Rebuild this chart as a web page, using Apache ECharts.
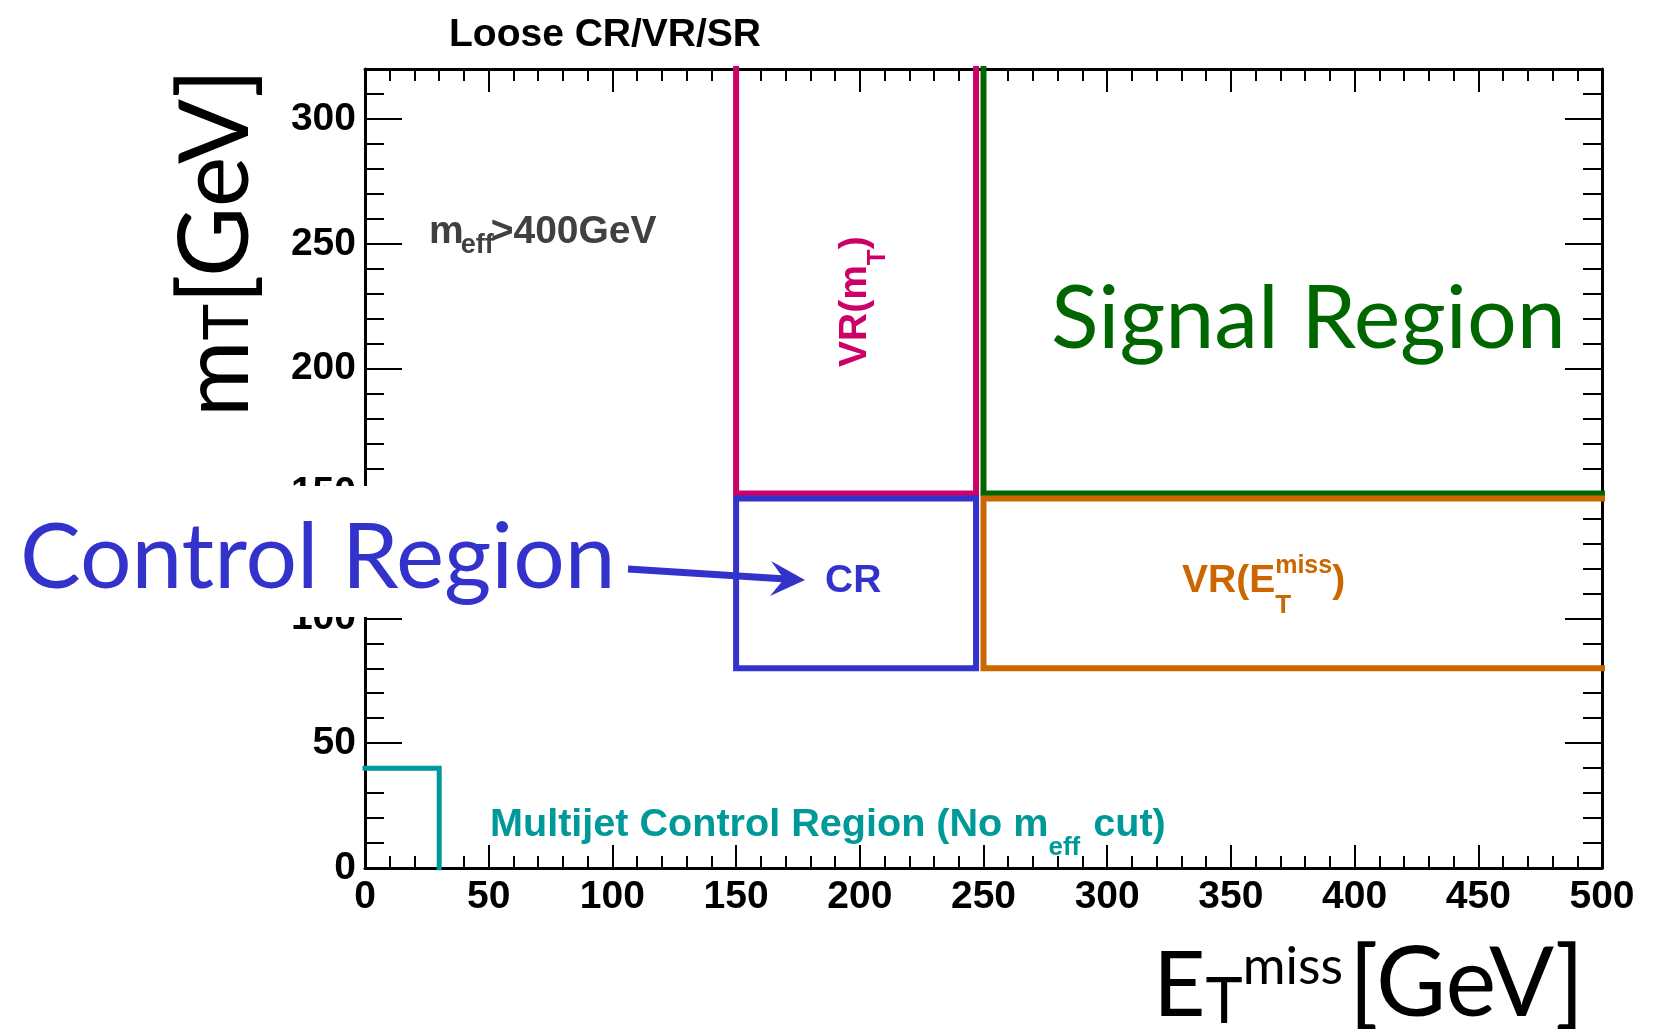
<!DOCTYPE html>
<html>
<head>
<meta charset="utf-8">
<script src="https://cdn.jsdelivr.net/npm/echarts@6/dist/echarts.min.js"></script>
<style>
  html, body { margin: 0; padding: 0; background: #fff; }
  #chart { width: 1656px; height: 1029px; }
</style>
</head>
<body>
<div id="chart"></div>
<script>
// Axis ranges (GeV)
const metRange = [0, 500];
const mtRange = [0, 320];
const majorStep = 50;
const minorStep = 10;

// Region boundaries: [low, high] in E_T^miss and in m_T (GeV)
const crMet = [150, 247];
const crMt = [80, 148];
const vrMtMet = [150, 247];
const vrMtMt = [150, 320];
const srMet = [250, 500];
const srMt = [150, 320];
const vrMetMet = [250, 500];
const vrMetMt = [80, 148];
const multijetMet = [0, 30];
const multijetMt = [0, 40];

// Colours
const BLUE = '#3333CC', MAGENTA = '#CC0066', GREEN = '#006600', ORANGE = '#CC6600', TEAL = '#009999';

// Corner walk: a=(lo,lo) b=(hi,lo) c=(hi,hi) d=(lo,hi)
function outline(met, mt, walk) {
  const pts = { a: [met[0], mt[0]], b: [met[1], mt[0]], c: [met[1], mt[1]], d: [met[0], mt[1]] };
  return walk.split('').map(k => pts[k]);
}
function regionSeries(name, met, mt, walk, color, width) {
  return {
    name, type: 'line', xAxisIndex: 0, yAxisIndex: 0, clip: true, silent: true,
    symbol: 'none', z: 3,
    lineStyle: { color, width, cap: 'square', join: 'miter' },
    data: outline(met, mt, walk)
  };
}

// Text helpers: pieces laid along a baseline, measured with canvas
const BOLD = '"Liberation Sans", Arial, Helvetica, sans-serif';
const HUMAN = 'Lato, "Open Sans", sans-serif';
const K = { bold: 0.27, human: 0.31 };
const mctx = document.createElement('canvas').getContext('2d');
function measure(t, size, fam, weight) {
  mctx.font = weight + ' ' + size + 'px ' + fam;
  return mctx.measureText(t).width;
}
function textRun(x, y, rotation, parts, fam, weight, color, k) {
  let cx = 0, pending = 0;
  const kids = [];
  parts.forEach(p => {
    cx += (p.dx || 0);
    kids.push({
      type: 'text', x: cx, y: (p.dy || 0) - k * p.s, z: 100,
      style: { text: p.t, fontSize: p.s, fontFamily: fam, fontWeight: weight, fill: color,
               align: 'left', verticalAlign: 'middle' }
    });
    const w = measure(p.t, p.s, fam, weight);
    if (p.stack) { pending = Math.max(pending, w); }
    else { cx += Math.max(w, pending); pending = 0; }
  });
  return { type: 'group', x, y, rotation, z: 100, children: kids };
}

const chart = echarts.init(document.getElementById('chart'), null, { renderer: 'canvas' });

const tickLine = { color: '#000', width: 2 };
const labelFont = { fontSize: 39, fontWeight: 'bold', fontFamily: BOLD, color: '#000' };

function xAxisDef(position, showLabel) {
  return {
    type: 'value', position, min: metRange[0], max: metRange[1], interval: majorStep,
    axisLine: { show: true, onZero: false, lineStyle: { color: '#000', width: 3 } },
    axisTick: { show: true, inside: true, length: 23, lineStyle: tickLine },
    minorTick: { show: true, splitNumber: majorStep / minorStep, length: 12, lineStyle: tickLine },
    splitLine: { show: false },
    axisLabel: Object.assign({ show: showLabel, margin: 10 }, labelFont)
  };
}
function yAxisDef(position, step, tickLen, showLine, showLabel) {
  return {
    type: 'value', position, min: mtRange[0], max: mtRange[1], interval: step,
    axisLine: { show: showLine, onZero: false, lineStyle: { color: '#000', width: 3 } },
    axisTick: { show: true, inside: true, length: tickLen, lineStyle: tickLine },
    minorTick: { show: false },
    splitLine: { show: false },
    axisLabel: Object.assign({
      show: showLabel, margin: 9, showMaxLabel: false, padding: [5, 0, 0, 0],
      formatter: v => (v % majorStep === 0 ? String(v) : '')
    }, labelFont)
  };
}

const option = {
  animation: false,
  backgroundColor: '#fff',
  grid: { left: 365, top: 69, width: 1237, height: 799, show: false },
  xAxis: [xAxisDef('bottom', true), xAxisDef('top', false)],
  yAxis: [
    yAxisDef('left', majorStep, 37, true, true),
    yAxisDef('left', minorStep, 19, false, false),
    yAxisDef('right', majorStep, 37, true, false),
    yAxisDef('right', minorStep, 19, false, false)
  ],
  series: [
    regionSeries('VR(mT)', vrMtMet, vrMtMt, 'dabc', MAGENTA, 6),
    regionSeries('SR', srMet, srMt, 'dab', GREEN, 6),
    regionSeries('CR', crMet, crMt, 'dabcd', BLUE, 6),
    regionSeries('VR(MET)', vrMetMet, vrMetMt, 'cdab', ORANGE, 6),
    regionSeries('Multijet CR', multijetMet, multijetMt, 'dcb', TEAL, 5)
  ],
  graphic: [
    // title
    textRun(449, 46, 0, [{ t: 'Loose CR/VR/SR', s: 39 }], BOLD, 'bold', '#000', K.bold),
    // m_eff cut
    textRun(429, 243, 0, [
      { t: 'm', s: 39 }, { t: 'eff', s: 27, dy: 10, dx: -3 }, { t: '>400GeV', s: 39, dx: -3 }
    ], BOLD, 'bold', '#404040', K.bold),
    // VR(m_T), vertical
    textRun(866, 367, Math.PI / 2, [
      { t: 'VR(m', s: 39 }, { t: 'T', s: 26, dy: 19 }, { t: ')', s: 39 }
    ], BOLD, 'bold', MAGENTA, K.bold),
    // CR
    textRun(825, 592, 0, [{ t: 'CR', s: 39 }], BOLD, 'bold', BLUE, K.bold),
    // VR(E_T^miss)
    textRun(1182, 592, 0, [
      { t: 'VR(E', s: 39 }, { t: 'T', s: 26, dy: 21, stack: true }, { t: 'miss', s: 25, dy: -19 }, { t: ')', s: 39 }
    ], BOLD, 'bold', ORANGE, K.bold),
    // multijet control region
    textRun(490, 836, 0, [
      { t: 'Multijet Control Region (No m', s: 39.6 }, { t: 'eff', s: 26, dy: 19 }, { t: ' cut)', s: 39.6, dx: 2 }
    ], BOLD, 'bold', TEAL, K.bold),
    // Signal Region
    textRun(1051, 347, 0, [{ t: 'Signal Region', s: 88 }], HUMAN, 'normal', GREEN, K.human),
    // Control Region label with its white backing and arrow
    { type: 'rect', z: 90, shape: { x: 0, y: 486, width: 622, height: 131 }, style: { fill: '#fff' } },
    textRun(20, 587, 0, [{ t: 'Control Region', s: 91 }], HUMAN, 'normal', BLUE, K.human),
    { type: 'line', z: 100, shape: { x1: 628, y1: 569, x2: 786, y2: 579 }, style: { stroke: BLUE, lineWidth: 7 } },
    { type: 'polygon', z: 100, shape: { points: [[805, 580], [771, 561], [784, 579], [770, 596]] }, style: { fill: BLUE } },
    // axis titles
    textRun(247, 417, Math.PI / 2, [
      { t: 'm', s: 93 }, { t: 'T', s: 62 }, { t: '[GeV]', s: 96 }
    ], HUMAN, 'normal', '#000', K.human),
    textRun(1153, 1015, 0, [
      { t: 'E', s: 91 }, { t: 'T', s: 63, dy: 7 }, { t: 'miss', s: 52, dy: -32 }, { t: '[GeV]', s: 96, dx: 6 }
    ], HUMAN, 'normal', '#000', K.human)
  ]
};

chart.setOption(option);
</script>
</body>
</html>
